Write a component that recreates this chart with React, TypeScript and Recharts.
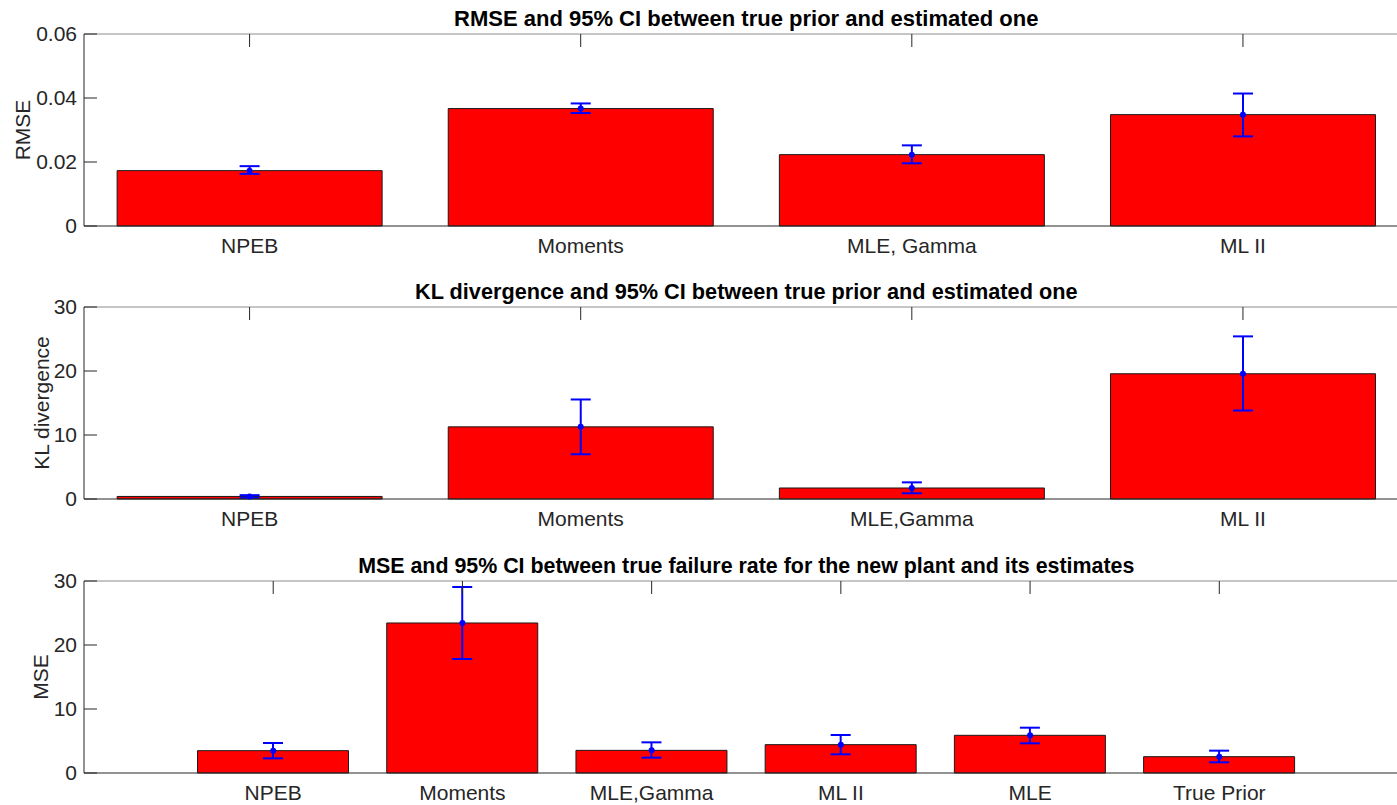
import { ComposedChart, Bar, Scatter, XAxis, YAxis, ErrorBar, Label } from "recharts"

// RMSE between true prior and estimated prior
const rmseNames = ["NPEB", "Moments", "MLE, Gamma", "ML II"]
const rmseMean = [0.0173, 0.0367, 0.0223, 0.0348]
const rmseLow = [0.0163, 0.0353, 0.0196, 0.028]
const rmseHigh = [0.0187, 0.0383, 0.0252, 0.0414]
const rmseTicks = [0, 0.02, 0.04, 0.06]

// KL divergence between true prior and estimated prior
const klNames = ["NPEB", "Moments", "MLE,Gamma", "ML II"]
const klMean = [0.4, 11.27, 1.72, 19.57]
const klLow = [0.2, 6.99, 0.89, 13.83]
const klHigh = [0.6, 15.55, 2.6, 25.41]
const klTicks = [0, 10, 20, 30]

// MSE of the failure rate estimates for the new plant
const mseNames = ["NPEB", "Moments", "MLE,Gamma", "ML II", "MLE", "True Prior"]
const mseMean = [3.49, 23.44, 3.54, 4.43, 5.89, 2.55]
const mseLow = [2.29, 17.81, 2.4, 2.92, 4.64, 1.67]
const mseHigh = [4.69, 29.06, 4.79, 5.94, 7.08, 3.49]
const mseTicks = [0, 10, 20, 30]

const FONT = '"Liberation Sans", Arial, Helvetica, sans-serif'
const AXIS = "#262626"
const BOX = "#8c8c8c"

interface PanelProps {
  title: string
  titleSize: number
  yLabel: string
  yLabelX: number
  names: string[]
  mean: number[]
  low: number[]
  high: number[]
  ticks: number[]
  pad: number
  top: number
}

const dot = (p: any) => <circle cx={p.cx} cy={p.cy} r={3} fill="#0000ff" />

// tick marks without text, for the top and right edges of the box
const noText = () => <g />

// rotated y axis title, centred on the plot height
const yTitle = (text: string, x: number) => (props: any) => {
  const vb = props.viewBox || {}
  const cy = (vb.y ?? 34) + (vb.height ?? 192) / 2
  return (
    <text
      x={x}
      y={cy}
      transform={`rotate(-90 ${x} ${cy})`}
      textAnchor="middle"
      dominantBaseline="central"
      fill={AXIS}
      fontSize={21}
      fontFamily={FONT}
    >
      {text}
    </text>
  )
}

// bold title above the plot box
const plotTitle = (text: string, size: number) => (props: any) => {
  const vb = props.viewBox || {}
  const cx = (vb.x ?? 84) + (vb.width ?? 1324.5) / 2
  const y = (vb.y ?? 33) - 7
  return (
    <text x={cx} y={y} textAnchor="middle" fill="#000" fontSize={size} fontWeight="bold" fontFamily={FONT}>
      {text}
    </text>
  )
}

const Panel = ({ title, titleSize, yLabel, yLabelX, names, mean, low, high, ticks, pad, top }: PanelProps) => {
  const data = names.map((name, i) => ({
    name,
    value: mean[i],
    err: [mean[i] - low[i], high[i] - mean[i]],
  }))
  const yMax = ticks[ticks.length - 1]
  const tickStyle = { fill: AXIS, fontSize: 21, fontFamily: FONT }

  return (
    <div style={{ position: "absolute", left: 0, top }}>
      <ComposedChart
        width={1420}
        height={270}
        data={data}
        margin={{ top: 33, right: 10.5, bottom: 0, left: 0 }}
        barCategoryGap="10%"
      >
        <XAxis
          dataKey="name"
          height={44}
          interval={0}
          padding={{ left: pad, right: pad }}
          tickSize={-13}
          tickMargin={25}
          stroke={AXIS}
          tickLine={false}
          tick={tickStyle}
        />
        <XAxis
          xAxisId="top"
          orientation="top"
          dataKey="name"
          height={1}
          interval={0}
          padding={{ left: pad, right: pad }}
          tickSize={-13}
          tick={noText}
          axisLine={{ stroke: BOX }}
          tickLine={{ stroke: AXIS }}
        >
          <Label content={plotTitle(title, titleSize)} />
        </XAxis>
        <YAxis
          width={84}
          domain={[0, yMax]}
          ticks={ticks}
          interval={0}
          tickSize={-13}
          tickMargin={20}
          stroke={AXIS}
          tick={tickStyle}
        >
          <Label content={yTitle(yLabel, yLabelX)} />
        </YAxis>
        <YAxis
          yAxisId="right"
          orientation="right"
          width={1}
          domain={[0, yMax]}
          ticks={ticks}
          interval={0}
          tickSize={-13}
          tick={noText}
          axisLine={{ stroke: BOX }}
          tickLine={{ stroke: AXIS }}
        />
        <Bar dataKey="value" fill="#ff0000" stroke="#1a1a1a" strokeWidth={1} isAnimationActive={false}>
          <ErrorBar dataKey="err" width={10} stroke="#0000ff" strokeWidth={2} direction="y" />
        </Bar>
        <Scatter dataKey="value" xAxisId="top" shape={dot} isAnimationActive={false} />
      </ComposedChart>
    </div>
  )
}

export default function App() {
  return (
    <div
      style={{
        position: "fixed",
        left: 0,
        top: 0,
        width: 1397,
        height: 805,
        overflow: "hidden",
        background: "#fff",
      }}
    >
      <Panel
        title="RMSE and 95% CI between true prior and estimated one"
        titleSize={22}
        yLabel="RMSE"
        yLabelX={22}
        names={rmseNames}
        mean={rmseMean}
        low={rmseLow}
        high={rmseHigh}
        ticks={rmseTicks}
        pad={0}
        top={0}
      />
      <Panel
        title="KL divergence and 95% CI between true prior and estimated one"
        titleSize={21.7}
        yLabel="KL divergence"
        yLabelX={41}
        names={klNames}
        mean={klMean}
        low={klLow}
        high={klHigh}
        ticks={klTicks}
        pad={0}
        top={273}
      />
      <Panel
        title="MSE and 95% CI between true failure rate for the new plant and its estimates"
        titleSize={21.4}
        yLabel="MSE"
        yLabelX={40}
        names={mseNames}
        mean={mseMean}
        low={mseLow}
        high={mseHigh}
        ticks={mseTicks}
        pad={94.6}
        top={547}
      />
    </div>
  )
}
